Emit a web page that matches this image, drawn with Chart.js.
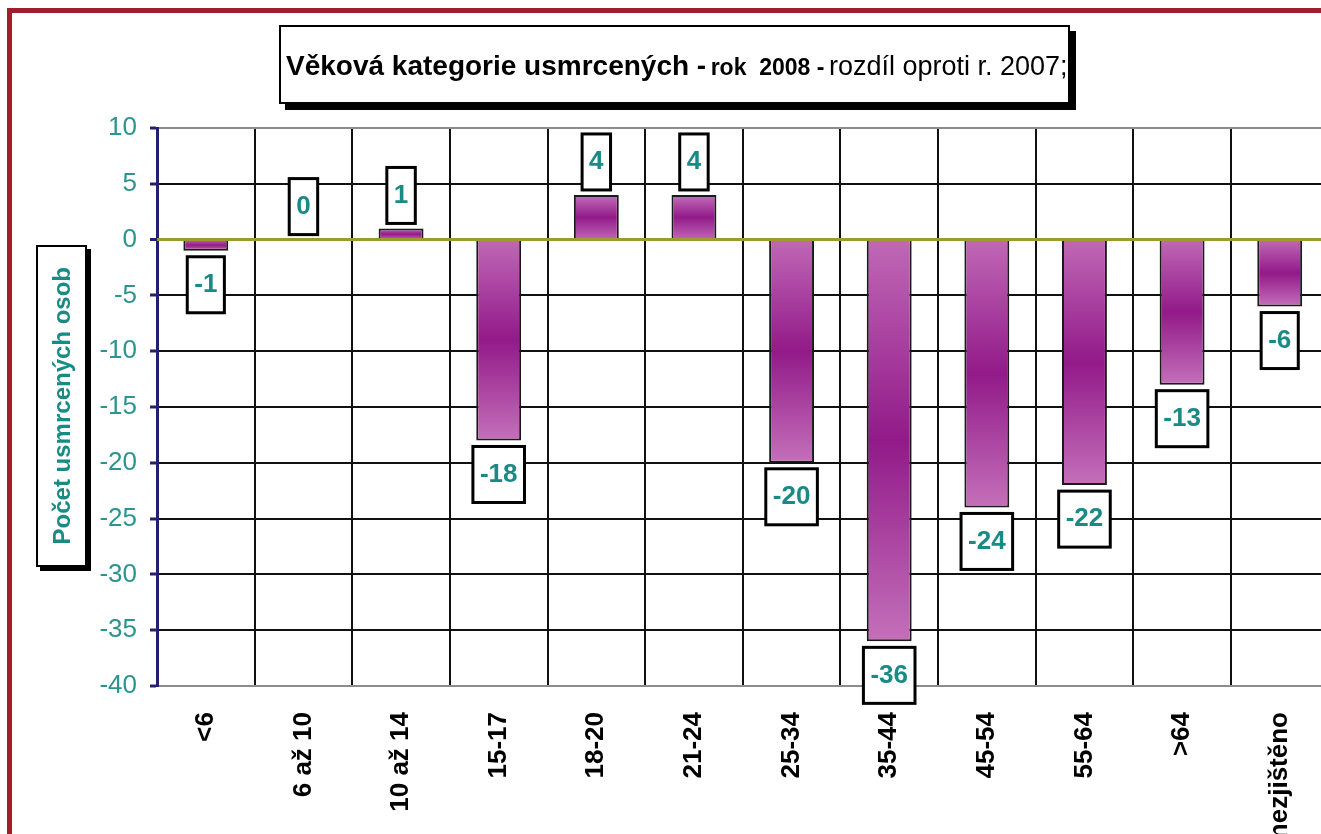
<!DOCTYPE html>
<html lang="cs">
<head>
<meta charset="utf-8">
<title>Věková kategorie usmrcených - rok 2008</title>
<script src="https://cdn.jsdelivr.net/npm/chart.js@4.4.1/dist/chart.umd.min.js"></script>
<style>
  html, body {
    margin: 0;
    padding: 0;
    background: #ffffff;
  }
  body {
    position: relative;
    width: 1321px;
    height: 834px;
    overflow: hidden;
    font-family: 'Liberation Sans', Arial, sans-serif;
  }
  #chart {
    position: absolute;
    left: 0;
    top: 0;
  }
  .frame-top {
    position: absolute;
    left: 7px;
    top: 8px;
    width: 1314px;
    height: 5px;
    background: #a11d2c;
  }
  .frame-left {
    position: absolute;
    left: 7px;
    top: 8px;
    width: 5px;
    height: 826px;
    background: #a11d2c;
  }
  #title-box {
    position: absolute;
    left: 279px;
    top: 25px;
    width: 791px;
    height: 79px;
    box-sizing: border-box;
    border: 2px solid #000;
    box-shadow: 6px 6px 0 #000;
    background: #fff;
    white-space: pre;
    color: #000;
    padding: 21px 0 0 5px;
    line-height: 36px;
  }
  #title-box .main { font-weight: bold; font-size: 28px; }
  #title-box .year { font-weight: bold; font-size: 23px; }
  #title-box .rest { font-size: 27px; }
  #axis-title-box {
    position: absolute;
    left: 36px;
    top: 245px;
    width: 51px;
    height: 322px;
    box-sizing: border-box;
    border: 2px solid #000;
    box-shadow: 4px 4px 0 #000;
    background: #fff;
    display: flex;
    align-items: center;
    justify-content: center;
  }
  #axis-title-box span {
    writing-mode: vertical-rl;
    transform: rotate(180deg);
    font-weight: bold;
    font-size: 24px;
    color: #1a8a84;
    white-space: nowrap;
  }
</style>
</head>
<body>
<canvas id="chart" width="1337" height="834"></canvas>
<div class="frame-top"></div>
<div class="frame-left"></div>
<div id="title-box"><span class="main">Věková kategorie usmrcených -</span> <span class="year">rok  2008 -</span> <span class="rest">rozdíl oproti r. 2007;</span></div>
<div id="axis-title-box"><span>Počet usmrcených osob</span></div>

<script>
const ageGroups = ['<6', '6 až 10', '10 až 14', '15-17', '18-20', '21-24', '25-34', '35-44', '45-54', '55-64', '>64', 'nezjištěno'];
const diffValues = [-1, 0, 1, -18, 4, 4, -20, -36, -24, -22, -13, -6];
const yMin = -40;
const yMax = 10;
const yStep = 5;

const tealText = '#1a8a86';
const zeroLineColor = '#9c9c2e';

function barGradient(context) {
  const chart = context.chart;
  if (!chart.chartArea || context.raw === undefined) return '#a43a9c';
  const yScale = chart.scales.y;
  const y0 = yScale.getPixelForValue(0);
  const y1 = yScale.getPixelForValue(context.raw);
  if (y0 === y1) return '#a43a9c';
  const g = chart.ctx.createLinearGradient(0, y0, 0, y1);
  g.addColorStop(0, '#c068b6');
  g.addColorStop(0.5, '#921a89');
  g.addColorStop(1, '#c470ba');
  return g;
}

function gridColor(ctx) {
  const v = ctx.tick ? ctx.tick.value : null;
  if (v === 0) return zeroLineColor;
  if (v === yMax || v === yMin) return '#8c8c8c';
  return '#111111';
}

// zero line over the bars + boxed value labels
const valueBoxPlugin = {
  id: 'valueBoxes',
  afterDatasetsDraw(chart) {
    const ctx = chart.ctx;
    const area = chart.chartArea;
    const y0 = chart.scales.y.getPixelForValue(0);

    ctx.save();
    ctx.strokeStyle = zeroLineColor;
    ctx.lineWidth = 3;
    ctx.beginPath();
    ctx.moveTo(area.left, y0);
    ctx.lineTo(area.right, y0);
    ctx.stroke();

    const meta = chart.getDatasetMeta(0);
    ctx.font = "bold 26px 'Liberation Sans', Arial, sans-serif";
    ctx.textAlign = 'center';
    ctx.textBaseline = 'middle';

    meta.data.forEach((bar, i) => {
      const value = diffValues[i];
      const text = String(value);
      const w = ctx.measureText(text).width + 14;
      const h = 56;
      let top;
      if (value < 0) {
        top = bar.y + 6;
      } else {
        top = bar.y - 5 - h;
      }
      const left = bar.x - w / 2;

      ctx.fillStyle = '#ffffff';
      ctx.fillRect(left, top, w, h);
      ctx.strokeStyle = '#000000';
      ctx.lineWidth = 3;
      ctx.strokeRect(left, top, w, h);

      ctx.fillStyle = tealText;
      ctx.fillText(text, bar.x, top + h / 2);
    });
    ctx.restore();
  }
};

const chartCtx = document.getElementById('chart').getContext('2d');

new Chart(chartCtx, {
  type: 'bar',
  data: {
    labels: ageGroups,
    datasets: [{
      label: 'rozdíl oproti r. 2007',
      data: diffValues,
      backgroundColor: barGradient,
      borderColor: '#1a1a1a',
      borderWidth: 2,
      borderSkipped: 'start',
      barPercentage: 0.46,
      categoryPercentage: 1
    }]
  },
  options: {
    responsive: false,
    animation: false,
    layout: {
      padding: { left: 0, top: 128, right: 2, bottom: 0 }
    },
    plugins: {
      legend: { display: false },
      title: { display: false },
      tooltip: { enabled: false }
    },
    scales: {
      x: {
        offset: true,
        grid: {
          offset: true,
          color: '#111111',
          lineWidth: 2,
          drawTicks: false
        },
        border: {
          color: '#8c8c8c',
          width: 2
        },
        ticks: {
          autoSkip: false,
          minRotation: 90,
          maxRotation: 90,
          padding: 26,
          color: '#000000',
          font: { family: "'Liberation Sans', Arial, sans-serif", size: 26, weight: 'bold' }
        },
        afterFit(scale) {
          scale.height = 148;
        }
      },
      y: {
        min: yMin,
        max: yMax,
        ticks: {
          stepSize: yStep,
          padding: 13,
          color: '#2a9490',
          font: { family: "'Liberation Sans', Arial, sans-serif", size: 26 }
        },
        grid: {
          color: gridColor,
          lineWidth: ctx => (ctx.tick && ctx.tick.value === 0 ? 3 : 2),
          tickColor: '#24206c',
          tickLength: 7,
          tickWidth: 3
        },
        border: {
          color: '#24206c',
          width: 3
        },
        afterFit(scale) {
          scale.width = 157;
        }
      }
    }
  },
  plugins: [valueBoxPlugin]
});
</script>
</body>
</html>
